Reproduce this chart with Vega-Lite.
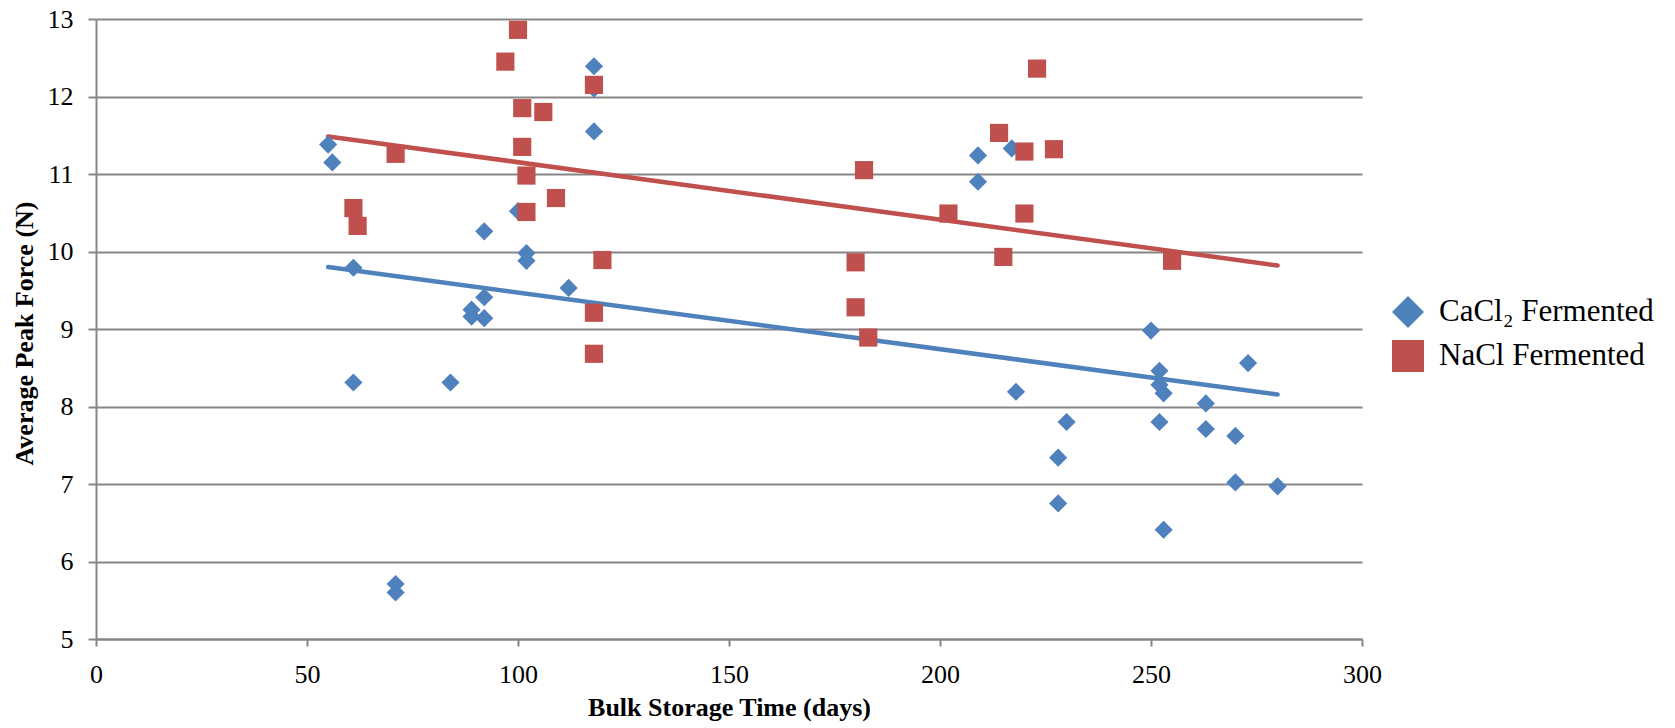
{
  "$schema": "https://vega.github.io/schema/vega-lite/v6.json",
  "width": 1266,
  "height": 620,
  "autosize": {"type": "none"},
  "padding": {"left": 96, "top": 19, "right": 313, "bottom": 89},
  "background": "white",
  "config": {
    "view": {"stroke": null},
    "font": "Liberation Serif",
    "axisY": {
      "domainColor": "#868686", "domainWidth": 2,
      "tickColor": "#868686", "tickWidth": 2, "tickSize": 8,
      "labelPadding": 15, "labelFontSize": 26, "labelColor": "#000000", "labelFont": "Liberation Serif",
      "labelFlush": false,
      "gridColor": "#868686", "gridWidth": 2,
      "titleFont": "Liberation Serif", "titleFontSize": 26, "titleFontWeight": "bold", "titleColor": "#000000",
      "titleX": -64, "titleY": 314, "titleAngle": 270, "titleBaseline": "alphabetic", "titleAlign": "center"
    },
    "axisX": {
      "grid": false,
      "domainColor": "#868686", "domainWidth": 2,
      "tickColor": "#868686", "tickWidth": 2, "tickSize": 7,
      "labelPadding": 15, "labelFontSize": 26, "labelColor": "#000000", "labelFont": "Liberation Serif",
      "labelFlush": false,
      "titleFont": "Liberation Serif", "titleFontSize": 26, "titleFontWeight": "bold", "titleColor": "#000000",
      "titleX": 633, "titleY": 76, "titleBaseline": "alphabetic", "titleAlign": "center"
    },
    "legend": {
      "orient": "none", "legendX": 1296, "legendY": 277, "padding": 0,
      "symbolSize": 1024, "symbolStrokeWidth": 0,
      "labelFontSize": 31, "labelFont": "Liberation Serif", "labelColor": "#000000",
      "labelOffset": 15, "rowPadding": 12, "labelLimit": 400
    }
  },
  "datasets": {
    "points": [
      {"series": "CaCl₂ Fermented", "days": 55, "force": 11.38},
      {"series": "CaCl₂ Fermented", "days": 56, "force": 11.15},
      {"series": "CaCl₂ Fermented", "days": 61, "force": 9.79},
      {"series": "CaCl₂ Fermented", "days": 61, "force": 8.31},
      {"series": "CaCl₂ Fermented", "days": 71, "force": 5.71},
      {"series": "CaCl₂ Fermented", "days": 71, "force": 5.60},
      {"series": "CaCl₂ Fermented", "days": 84, "force": 8.31},
      {"series": "CaCl₂ Fermented", "days": 89, "force": 9.25},
      {"series": "CaCl₂ Fermented", "days": 89, "force": 9.16},
      {"series": "CaCl₂ Fermented", "days": 92, "force": 10.26},
      {"series": "CaCl₂ Fermented", "days": 92, "force": 9.41},
      {"series": "CaCl₂ Fermented", "days": 92, "force": 9.14},
      {"series": "CaCl₂ Fermented", "days": 100, "force": 10.52},
      {"series": "CaCl₂ Fermented", "days": 102, "force": 9.98},
      {"series": "CaCl₂ Fermented", "days": 102, "force": 9.88},
      {"series": "CaCl₂ Fermented", "days": 112, "force": 9.53},
      {"series": "CaCl₂ Fermented", "days": 118, "force": 12.39},
      {"series": "CaCl₂ Fermented", "days": 118, "force": 12.10},
      {"series": "CaCl₂ Fermented", "days": 118, "force": 11.55},
      {"series": "CaCl₂ Fermented", "days": 209, "force": 11.24},
      {"series": "CaCl₂ Fermented", "days": 209, "force": 10.90},
      {"series": "CaCl₂ Fermented", "days": 217, "force": 11.33},
      {"series": "CaCl₂ Fermented", "days": 218, "force": 8.19},
      {"series": "CaCl₂ Fermented", "days": 228, "force": 7.34},
      {"series": "CaCl₂ Fermented", "days": 228, "force": 6.75},
      {"series": "CaCl₂ Fermented", "days": 230, "force": 7.80},
      {"series": "CaCl₂ Fermented", "days": 250, "force": 8.98},
      {"series": "CaCl₂ Fermented", "days": 252, "force": 8.46},
      {"series": "CaCl₂ Fermented", "days": 252, "force": 8.28},
      {"series": "CaCl₂ Fermented", "days": 252, "force": 7.80},
      {"series": "CaCl₂ Fermented", "days": 253, "force": 8.17},
      {"series": "CaCl₂ Fermented", "days": 253, "force": 6.41},
      {"series": "CaCl₂ Fermented", "days": 263, "force": 8.04},
      {"series": "CaCl₂ Fermented", "days": 263, "force": 7.71},
      {"series": "CaCl₂ Fermented", "days": 270, "force": 7.62},
      {"series": "CaCl₂ Fermented", "days": 270, "force": 7.02},
      {"series": "CaCl₂ Fermented", "days": 273, "force": 8.56},
      {"series": "CaCl₂ Fermented", "days": 280, "force": 6.97},
      {"series": "NaCl Fermented", "days": 61, "force": 10.56},
      {"series": "NaCl Fermented", "days": 62, "force": 10.33},
      {"series": "NaCl Fermented", "days": 71, "force": 11.26},
      {"series": "NaCl Fermented", "days": 97, "force": 12.45},
      {"series": "NaCl Fermented", "days": 100, "force": 12.86},
      {"series": "NaCl Fermented", "days": 101, "force": 11.85},
      {"series": "NaCl Fermented", "days": 101, "force": 11.35},
      {"series": "NaCl Fermented", "days": 102, "force": 10.98},
      {"series": "NaCl Fermented", "days": 102, "force": 10.51},
      {"series": "NaCl Fermented", "days": 106, "force": 11.80},
      {"series": "NaCl Fermented", "days": 109, "force": 10.69},
      {"series": "NaCl Fermented", "days": 118, "force": 12.15},
      {"series": "NaCl Fermented", "days": 118, "force": 9.21},
      {"series": "NaCl Fermented", "days": 118, "force": 8.68},
      {"series": "NaCl Fermented", "days": 120, "force": 9.89},
      {"series": "NaCl Fermented", "days": 180, "force": 9.86},
      {"series": "NaCl Fermented", "days": 180, "force": 9.28},
      {"series": "NaCl Fermented", "days": 182, "force": 11.05},
      {"series": "NaCl Fermented", "days": 183, "force": 8.89},
      {"series": "NaCl Fermented", "days": 202, "force": 10.49},
      {"series": "NaCl Fermented", "days": 214, "force": 11.53},
      {"series": "NaCl Fermented", "days": 215, "force": 9.93},
      {"series": "NaCl Fermented", "days": 220, "force": 11.29},
      {"series": "NaCl Fermented", "days": 220, "force": 10.49},
      {"series": "NaCl Fermented", "days": 223, "force": 12.36},
      {"series": "NaCl Fermented", "days": 227, "force": 11.32},
      {"series": "NaCl Fermented", "days": 255, "force": 9.88}
    ],
    "trendCa": [
      {"series": "CaCl₂ Fermented", "days": 55, "force": 9.80},
      {"series": "CaCl₂ Fermented", "days": 280, "force": 8.155}
    ],
    "trendNa": [
      {"series": "NaCl Fermented", "days": 55, "force": 11.485},
      {"series": "NaCl Fermented", "days": 280, "force": 9.82}
    ]
  },
  "encoding": {
    "x": {"field": "days", "type": "quantitative", "scale": {"domain": [0, 300], "nice": false, "zero": false},
          "axis": {"values": [0, 50, 100, 150, 200, 250, 300], "title": "Bulk Storage Time (days)"}},
    "y": {"field": "force", "type": "quantitative", "scale": {"domain": [5, 13], "nice": false, "zero": false},
          "axis": {"values": [5, 6, 7, 8, 9, 10, 11, 12, 13], "title": "Average Peak Force (N)"}}
  },
  "layer": [
    {
      "data": {"name": "trendCa"},
      "mark": {"type": "line", "strokeWidth": 4.5, "strokeCap": "round", "color": "#4F81BD"}
    },
    {
      "data": {"name": "trendNa"},
      "mark": {"type": "line", "strokeWidth": 4.5, "strokeCap": "round", "color": "#C0504D"}
    },
    {
      "data": {"name": "points"},
      "mark": {"type": "point", "filled": true, "opacity": 1, "size": 330},
      "encoding": {
        "color": {"field": "series", "type": "nominal",
                  "scale": {"domain": ["CaCl₂ Fermented", "NaCl Fermented"], "range": ["#4F81BD", "#C0504D"]},
                  "legend": {"title": null}},
        "shape": {"field": "series", "type": "nominal",
                  "scale": {"domain": ["CaCl₂ Fermented", "NaCl Fermented"], "range": ["diamond", "square"]},
                  "legend": {"title": null}}
      }
    }
  ]
}
